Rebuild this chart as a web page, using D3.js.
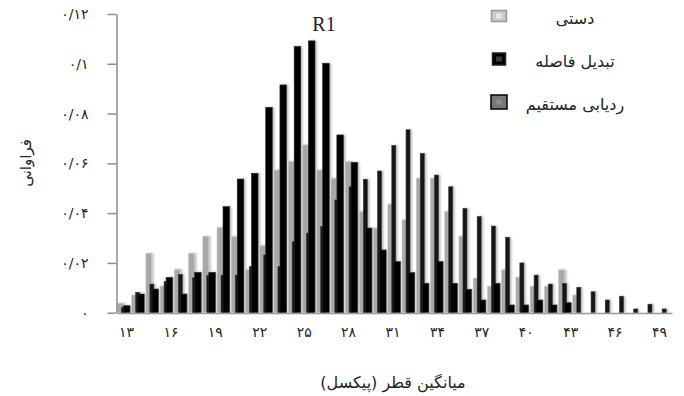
<!DOCTYPE html>
<html>
<head>
<meta charset="utf-8">
<script src="https://cdn.jsdelivr.net/npm/d3@7/dist/d3.min.js"></script>
<style>
  body { margin: 0; background: #fff; }
  svg { display: block; }
  .fa { font-family: "DejaVu Sans", "Noto Sans", sans-serif; }
</style>
</head>
<body>
<div id="chart"></div>
<script>
// mean diameter classes (pixels)
const categories = [13,14,15,16,17,18,19,20,21,22,23,24,25,26,27,28,29,30,31,32,
                    33,34,35,36,37,38,39,40,41,42,43,44,45,46,47,48,49,50,51];

// manual (light gray)
const manual = [0.0038,0.0071,0.0239,0.0107,0.0174,0.0239,0.0307,0.0342,0.0305,0.0172,
                0.0269,0.0573,0.0607,0.0674,0.0573,0.0540,0.0607,0.0406,0.0340,0.0436,
                0.0373,0.0540,0.0540,0.0406,0.0308,0.0138,0.0105,0.0172,0.0143,0.0106,
                0.0106,0.0172,0.0071,0,0,0,0,0,0];

// distance transform (black, wide)
const distanceTransform = [0.0028,0.0075,0.0095,0.0142,0.0075,0.0162,0.0162,0.0426,0.0537,0.0560,
                0.0825,0.0915,0.1070,0.1092,0.1002,0.0714,0.0604,0.0340,0.0252,0.0205,
                0.0161,0.0118,0.0205,0.0118,0.0094,0.0051,0.0118,0.0031,0.0031,0.0051,
                0.0031,0.0040,0,0,0,0,0,0,0];

// direct tracking (dark, narrow)
const directTracking = [0.0022,0.0082,0.0115,0.0125,0.0154,0.0140,0.0150,0.0151,0.0151,0.0185,
                0.0232,0.0185,0.0285,0.0320,0.0346,0.0453,0.0506,0.0536,0.0569,0.0672,
                0.0735,0.0640,0.0553,0.0506,0.0419,0.0386,0.0348,0.0303,0.0200,0.0151,
                0.0115,0.0118,0.0102,0.0084,0.0051,0.0066,0.0015,0.0034,0.0015];

const seriesNames = ["دستی", "تبدیل فاصله", "ردیابی مستقیم"];
const yTicks = [0, 0.02, 0.04, 0.06, 0.08, 0.1, 0.12];
const yTickLabels = ["۰", "۰/۰۲", "۰/۰۴", "۰/۰۶", "۰/۰۸", "۰/۱", "۰/۱۲"];
const xTickLabels = ["۱۳","۱۶","۱۹","۲۲","۲۵","۲۸","۳۱","۳۴","۳۷","۴۰","۴۳","۴۶","۴۹"];

const W = 684, H = 396;
const svg = d3.select("#chart").append("svg")
    .attr("width", W).attr("height", H)
    .style("background", "#fff");

const defs = svg.append("defs");
defs.append("filter").attr("id", "shadow")
    .attr("x", "-50%").attr("width", "200%")
  .append("feDropShadow")
    .attr("dx", 1.5).attr("dy", 0).attr("stdDeviation", 1)
    .attr("flood-color", "#000").attr("flood-opacity", 0.3);

const x = d3.scaleBand().domain(categories).range([117, 672]);
const y = d3.scaleLinear().domain([0, 0.12]).range([312.7, 14]);
const xLab = d3.scalePoint().domain(xTickLabels).range([126, 659]);
const bw = x.bandwidth();

// bars: gray first, then the two dark series overlapping to the right
const layers = [
  {vals: manual, off: 0.03, w: 0.41, fill: "#a8a8a8", stroke: "#cbcbcb"},
  {vals: directTracking, off: 0.31, w: 0.28, fill: "#141414", stroke: "#3a3a3a"},
  {vals: distanceTransform, off: 0.45, w: 0.46, fill: "#000", stroke: "#2a2a2a"}
];

const plot = svg.append("g").attr("filter", "url(#shadow)");
layers.forEach(l => {
  plot.append("g").selectAll("rect")
    .data(categories.map((c, i) => ({c: c, v: l.vals[i]})).filter(d => d.v > 0))
    .enter().append("rect")
      .attr("x", d => x(d.c) + l.off * bw)
      .attr("y", d => y(d.v))
      .attr("width", l.w * bw)
      .attr("height", d => y(0) - y(d.v))
      .attr("fill", l.fill)
      .attr("stroke", l.stroke)
      .attr("stroke-width", 0.6);
});

// y axis
const yAxis = svg.append("g").attr("transform", "translate(116.5,0)")
    .call(d3.axisLeft(y).tickValues(yTicks).tickSize(9).tickSizeOuter(0)
          .tickPadding(19).tickFormat((d, i) => yTickLabels[i]));
yAxis.selectAll("path, line").attr("stroke", "#8e8e8e").attr("stroke-width", 1.5);
yAxis.selectAll("text").attr("class", "fa").attr("font-size", 14).attr("fill", "#222");

// x axis line
const xAxis = svg.append("g").attr("transform", "translate(0,313)")
    .call(d3.axisBottom(x).tickValues([]).tickSizeOuter(0));
xAxis.select("path").attr("stroke", "#9a9a9a").attr("stroke-width", 1.5);

// x tick labels
const xLabAxis = svg.append("g").attr("transform", "translate(0,313)")
    .call(d3.axisBottom(xLab).tickSize(0).tickPadding(14));
xLabAxis.select("path").remove();
xLabAxis.selectAll("text").attr("class", "fa").attr("font-size", 14).attr("fill", "#222");

// titles
svg.append("text").attr("class", "fa")
    .attr("x", 393).attr("y", 388).attr("text-anchor", "middle")
    .attr("font-size", 16).attr("fill", "#222")
    .text("میانگین قطر (پیکسل)");

svg.append("text").attr("class", "fa")
    .attr("transform", "translate(31,163) rotate(-90)")
    .attr("text-anchor", "middle").attr("font-size", 15).attr("fill", "#222")
    .text("فراوانی");

svg.append("text")
    .attr("x", 324).attr("y", 31).attr("text-anchor", "middle")
    .attr("font-family", "Liberation Serif, serif").attr("font-size", 20).attr("fill", "#222")
    .text("R1");

// legend
const legendStyles = [
  {fill: "#c8c8c8", stroke: "#9a9a9a", inner: "#e6e6e6", w: 15, h: 11},
  {fill: "#000", stroke: "#222", inner: "#3c3c3c", w: 13, h: 12},
  {fill: "#777", stroke: "#000", inner: "#8a8a8a", w: 16, h: 14}
];
const legend = svg.append("g");
seriesNames.forEach((name, i) => {
  const cy = 16 + i * 43;
  const st = legendStyles[i];
  legend.append("rect").attr("x", 499 - st.w / 2).attr("y", cy - st.h / 2)
    .attr("width", st.w).attr("height", st.h)
    .attr("fill", st.fill).attr("stroke", st.stroke).attr("stroke-width", 1.5);
  legend.append("rect").attr("x", 496).attr("y", cy - 2.5).attr("width", 6).attr("height", 5)
    .attr("fill", st.inner);
  legend.append("text").attr("class", "fa")
    .attr("x", 575).attr("y", cy + 8).attr("text-anchor", "middle")
    .attr("font-size", 16).attr("fill", "#222")
    .text(name);
});
</script>
</body>
</html>
